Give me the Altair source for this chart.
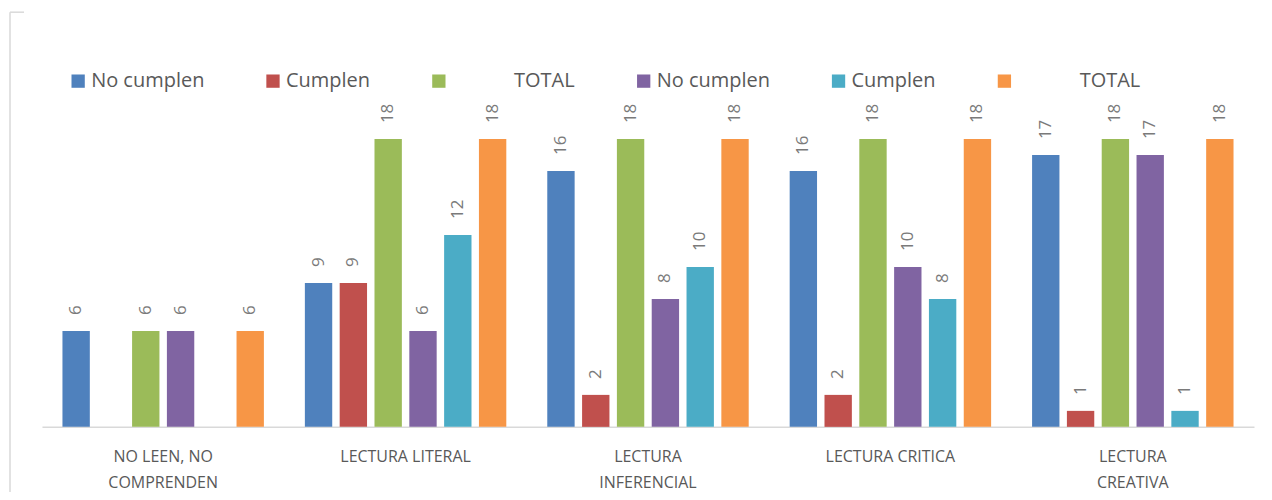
import altair as alt
import pandas as pd

categories = ["NO LEEN, NO COMPRENDEN", "LECTURA LITERAL", "LECTURA INFERENCIAL",
              "LECTURA CRITICA", "LECTURA CREATIVA"]
category_lines = [["NO LEEN, NO", "COMPRENDEN"], ["LECTURA LITERAL"],
                  ["LECTURA", "INFERENCIAL"], ["LECTURA CRITICA"], ["LECTURA", "CREATIVA"]]

series_keys = ["No cumplen 1", "Cumplen 1", "TOTAL 1", "No cumplen 2", "Cumplen 2", "TOTAL 2"]
PAD = "\u200b" + "\u00a0" * 12
series_labels = ["No cumplen", "Cumplen", PAD + "TOTAL",
                 "No cumplen", "Cumplen", PAD + "TOTAL"]
series_colors = ["#4F81BD", "#C0504D", "#9BBB59", "#8064A2", "#4BACC6", "#F79646"]

no_cumplen_1 = [6, 9, 16, 16, 17]
cumplen_1 = [0, 9, 2, 2, 1]
total_1 = [6, 18, 18, 18, 18]
no_cumplen_2 = [6, 6, 8, 10, 17]
cumplen_2 = [0, 12, 10, 8, 1]
total_2 = [6, 18, 18, 18, 18]

series_values = [no_cumplen_1, cumplen_1, total_1, no_cumplen_2, cumplen_2, total_2]

rows = []
for key, vals in zip(series_keys, series_values):
    for cat, v in zip(categories, vals):
        rows.append({"cat": cat, "series": key, "value": v})
df = pd.DataFrame(rows)

def js_list(items):
    return "[" + ",".join("'" + s.replace("'", "\\'") + "'" for s in items) + "]"

legend_expr = js_list(series_labels) + "[indexof(" + js_list(series_keys) + ", datum.label)]"
axis_expr = ("[" + ",".join(js_list(l) for l in category_lines) + "][indexof("
             + js_list(categories) + ", datum.label)]")

FONT = "Open Sans"

x_enc = alt.X("cat:N", sort=categories,
              scale=alt.Scale(paddingInner=0.169, paddingOuter=0.0845),
              axis=alt.Axis(title=None, labelAngle=0, ticks=False, domainColor="#d9d9d9",
                            domainWidth=1.5, labelFont=FONT, labelFontSize=16,
                            labelColor="#595959", labelPadding=22, labelLineHeight=26,
                            labelOverlap=False, labelLimit=400, labelExpr=axis_expr))
xo_enc = alt.XOffset("series:N", sort=series_keys,
                     scale=alt.Scale(paddingInner=0.214, paddingOuter=0))
y_enc = alt.Y("value:Q", scale=alt.Scale(domain=[0, 20]), axis=None)

base = alt.Chart(df)

bars = base.mark_bar().encode(
    x=x_enc, xOffset=xo_enc, y=y_enc,
    color=alt.Color("series:N",
                    scale=alt.Scale(domain=series_keys, range=series_colors),
                    legend=alt.Legend(orient="none", legendX=26.2, legendY=-36,
                                      direction="horizontal", columns=6, title=None,
                                      symbolType="square", symbolSize=177,
                                      symbolStrokeWidth=0, labelFont=FONT,
                                      labelFontSize=20, labelColor="#595959",
                                      labelOffset=3, columnPadding=58, padding=0,
                                      labelLimit=400, labelExpr=legend_expr)),
)

labels = base.transform_filter("datum.value > 0").mark_text(
    angle=270, align="left", baseline="middle", dx=16, font=FONT, fontSize=17,
    color="#7a7a7a"
).encode(x=x_enc, xOffset=xo_enc, y=y_enc, text=alt.Text("value:Q"))

frame_v = alt.Chart(alt.Data(values=[{}])).mark_rule(color="#d9d9d9", strokeWidth=1.5).encode(
    x=alt.value(-32), y=alt.value(-95), y2=alt.value(390))
frame_h = alt.Chart(alt.Data(values=[{}])).mark_rule(color="#d9d9d9", strokeWidth=1.5).encode(
    x=alt.value(-32), x2=alt.value(-18), y=alt.value(-95))

chart = alt.layer(frame_v, frame_h, bars, labels).properties(
    width=1213, height=320,
    autosize=alt.AutoSizeParams(type="none"),
    padding={"left": 34, "top": 99, "right": 10, "bottom": 65},
).configure(background="white").configure_view(stroke=None)

chart.save("out.html", embed_options={"renderer": "svg", "actions": False})
